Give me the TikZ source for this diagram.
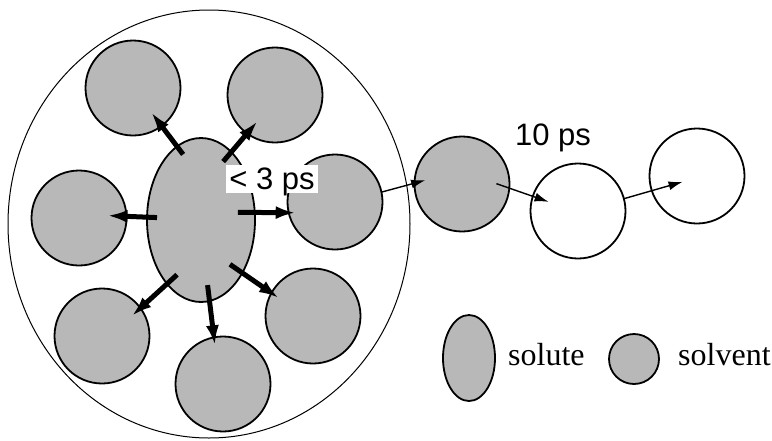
\documentclass[tikz,border=0pt]{standalone}
\usepackage{fontspec}
\setmainfont{Liberation Serif}
\setsansfont{Liberation Sans}
\usepackage{tikz}
\usetikzlibrary{arrows.meta,
shapes.geometric}
\definecolor{dotgray}{gray}{0.72}

\begin{document}
\begin{tikzpicture}[
x=1pt, y=-1pt,
solvent/.style={
draw,
circle,
line width=1.8pt,
fill=dotgray,
minimum size=95pt,
inner sep=0pt,
outer sep=0pt
},
hollow/.style={
solvent,
fill=none
},
solutebody/.style={
draw,
ellipse,
line width=1.8pt,
fill=dotgray,
minimum width=108pt,
minimum height=164pt,
inner sep=0pt,
outer sep=0pt
},
push/.style={
line width=5pt,
-{Latex[length=20pt,width=13pt]}
},
hop/.style={
line width=1.4pt,
-{Latex[length=14pt,width=9pt]}
},
timing/.style={
font=\sffamily\fontsize{31}{36}\selectfont,
anchor=base
},
keytext/.style={
font=\fontsize{32}{38}\selectfont,
anchor=base west,
inner sep=0pt
}
]

\useasboundingbox (0,0) rectangle (772,440);

\node (solvNW) [solvent] at (133,88) {};
\node (solvNE) [solvent] at (275,95) {};
\node (solvW) [solvent] at (79,218) {};
\node (solvE) [solvent] at (335,202) {};
\node (solvSW) [solvent] at (102,336) {};
\node (solvS) [solvent] at (223,384) {};
\node (solvSE) [solvent] at (313,316) {};
\node (solute) [solutebody] at (201,220) {};

\node (hopA) [solvent] at (462,184) {};
\node (hopB) [hollow] at (578,211) {};
\node (hopC) [hollow] at (697,176) {};

\node (shell) [draw, ellipse, line width=1pt, minimum width=402pt, minimum height=428pt, inner sep=0pt] at (209,224) {};

\draw[push, shorten <=-10pt, shorten >=-17pt] (solute.108) -- (solvNW.307);
\draw[push, shorten <=-12.5pt, shorten >=-16pt] (solute.66) -- (solvNE.234);
\draw[push, shorten <=-10pt, shorten >=-19pt] (solute.177) -- (solvW.2);
\draw[push, shorten <=-13.5pt, shorten >=-11.5pt] (solute.242) -- (solvSW.36);
\draw[push, shorten <=-16pt, shorten >=-8pt] (solute.276) -- (solvS.101);
\draw[push, shorten <=-15pt, shorten >=-9pt] (solute.308) -- (solvSE.151);

\node (fast) [timing, fill=white, inner xsep=3pt, inner ysep=1pt, text height=23pt, text depth=3pt] at (272,189) {< 3 ps};
\draw[push, shorten <=-17pt, shorten >=-7pt] (solute.8) -- (solvE.193);

\draw[hop, shorten >=-11pt] (solvE.12) -- (hopA.179);
\draw[hop, shorten <=-13.7pt, shorten >=-16.7pt] (hopA.355) -- (hopB.162);
\draw[hop, shorten >=-32pt] (hopB.15) -- (hopC.198);
\node (slow) [timing, inner sep=0pt] at (553,145) {10 ps};

\node (keysolute) [solutebody, minimum width=52pt, minimum height=86pt] at (469,358) {};
\node (keysolutetext) [keytext] at (508,365) {solute};
\node (keysolvent) [solvent, minimum size=50pt] at (634,359) {};
\node (keysolventtext) [keytext] at (678,365) {solvent};

\end{tikzpicture}
\end{document}
